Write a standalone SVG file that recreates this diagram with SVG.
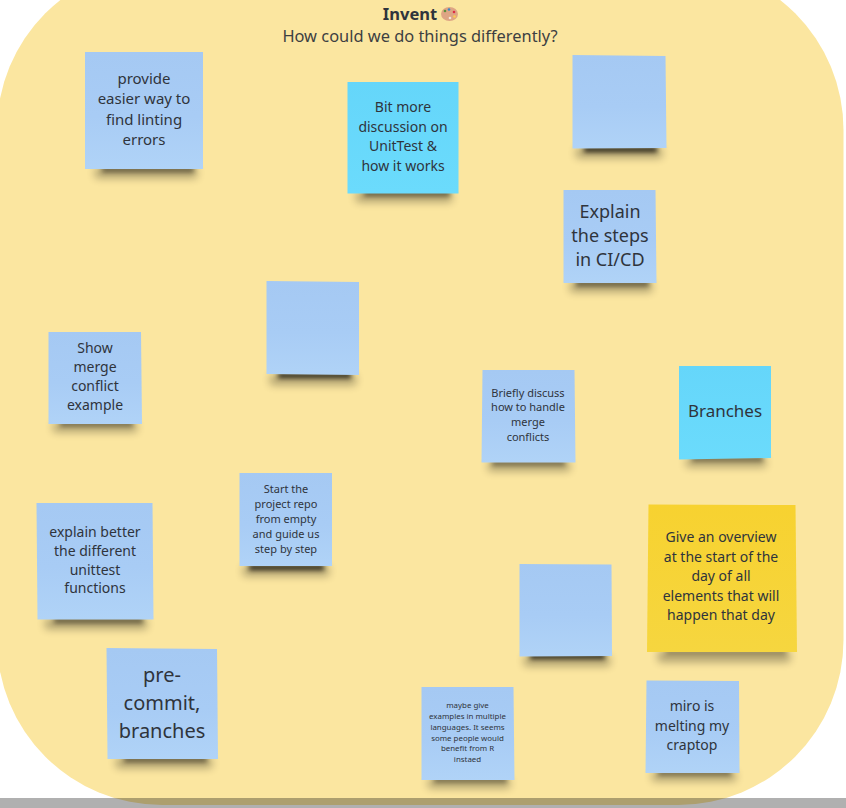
<svg xmlns="http://www.w3.org/2000/svg" width="846" height="808" viewBox="0 0 846 808">
<style>
text{font-family:"Noto Sans","Open Sans","Liberation Sans",sans-serif;fill:#2f343c;text-anchor:middle}
.blue{fill:url(#gb)}.cyan{fill:url(#gc)}.yellow{fill:url(#gy)}
.s1{fill:#000;opacity:.3;filter:url(#b3)}
.s2{fill:#000;opacity:.55;filter:url(#b2)}
.s3{fill:#000;opacity:.85;filter:url(#b2)}
</style>
<defs>
<linearGradient id="gb" x1="0" y1="0" x2="0" y2="1"><stop offset="0" stop-color="#a5c9f3"/><stop offset=".55" stop-color="#a8ccf5"/><stop offset="1" stop-color="#b0d3f7"/></linearGradient>
<linearGradient id="gc" x1="0" y1="0" x2="0" y2="1"><stop offset="0" stop-color="#65d6fa"/><stop offset="1" stop-color="#6bdbfc"/></linearGradient>
<linearGradient id="gy" x1="0" y1="0" x2="0" y2="1"><stop offset="0" stop-color="#f7d230"/><stop offset="1" stop-color="#f6d63f"/></linearGradient>
<filter id="b2" x="-20%" y="-200%" width="140%" height="500%"><feGaussianBlur stdDeviation="2.500"/></filter>
<filter id="b3" x="-20%" y="-200%" width="140%" height="500%"><feGaussianBlur stdDeviation="4.500"/></filter>
</defs>
<rect width="846" height="808" fill="#fff"/>
<rect id="frame" x="-3" y="-35" width="846.500" height="840" rx="165" ry="165" fill="#fbe6a0"/>
<g id="title">
<text x="410" y="20" font-size="16.500" font-weight="700">Invent</text>
<text x="420" y="42" font-size="16.400" style="fill:#3d3f42">How could we do things differently?</text>
</g>
<g id="palette">
<ellipse cx="449.500" cy="14" rx="8.500" ry="7" fill="#dea584"/>
<circle cx="445" cy="11" r="1.300" fill="#5c913b"/><circle cx="449" cy="9.500" r="1.300" fill="#3b88c3"/><circle cx="454" cy="12" r="1.300" fill="#dd2e44"/><circle cx="454.500" cy="16.500" r="1.300" fill="#ffcc4d"/><circle cx="450" cy="18" r="1.300" fill="#f4e8d8"/>
</g>
<g id="connectors"/>
<g id="n1"><rect class="s1" x="95" y="168" width="102" height="10"/><rect class="s2" x="102" y="167" width="92" height="5"/><rect class="blue" x="85" y="52" width="118" height="117"/>
<text font-size="15"><tspan x="144" y="84">provide</tspan><tspan x="144" y="104">easier way to</tspan><tspan x="144" y="125">find linting</tspan><tspan x="144" y="145">errors</tspan></text></g>
<g id="n2"><rect class="s1" x="356" y="192" width="96" height="10"/><rect class="s2" x="364" y="191" width="86" height="5"/><rect class="cyan" x="347.500" y="82" width="111" height="111.500"/>
<text font-size="14"><tspan x="403" y="112">Bit more</tspan><tspan x="403" y="132">discussion on</tspan><tspan x="403" y="151">UnitTest &amp;</tspan><tspan x="403" y="171">how it works</tspan></text></g>
<g id="n3"><rect class="s1" x="576" y="148" width="86" height="10"/><rect class="s3" x="584" y="147" width="73" height="5"/><polygon class="blue" points="572.500,55 665.500,56 666.500,148 572.500,148.500"/></g>
<g id="n4"><rect class="s1" x="570" y="282" width="82" height="10"/><rect class="s2" x="576" y="281" width="73" height="5"/><polygon class="blue" points="563.500,190 655.500,190 656.500,283 563.500,283"/>
<text font-size="18"><tspan x="610" y="218">Explain</tspan><tspan x="610" y="242">the steps</tspan><tspan x="610" y="266">in CI/CD</tspan></text></g>
<g id="n5"><rect class="s1" x="270" y="375" width="86" height="10"/><rect class="s3" x="278" y="373" width="73" height="5"/><polygon class="blue" points="266.500,281 359,282 359,375 266.500,374"/></g>
<g id="n6"><rect class="s1" x="53" y="423" width="84" height="9"/><rect class="s2" x="60" y="422" width="73" height="4"/><polygon class="blue" points="48.500,332 141,332 142,424 48.500,424"/>
<text font-size="14"><tspan x="95" y="353">Show</tspan><tspan x="95" y="372">merge</tspan><tspan x="95" y="391">conflict</tspan><tspan x="95" y="410">example</tspan></text></g>
<g id="n7"><rect class="s1" x="488" y="462" width="82" height="9"/><rect class="s2" x="492" y="461" width="73" height="4"/><polygon class="blue" points="482.500,370 574.500,370 575.500,462.500 481.500,462.500"/>
<text font-size="11"><tspan x="528" y="397">Briefly discuss</tspan><tspan x="528" y="411">how to handle</tspan><tspan x="528" y="426">merge</tspan><tspan x="528" y="441">conflicts</tspan></text></g>
<g id="n8"><rect class="s1" x="686" y="458" width="80" height="9"/><rect class="s2" x="692" y="457" width="71" height="4"/><polygon class="cyan" points="679,366 771,366 771,458 679,459.500"/>
<text font-size="17"><tspan x="725" y="417">Branches</tspan></text></g>
<g id="n9"><rect class="s1" x="243" y="566" width="86" height="10"/><rect class="s3" x="249" y="565" width="75" height="5"/><polygon class="blue" points="239.500,473 332,473 332,566 239.500,566"/>
<text font-size="11"><tspan x="286" y="493">Start the</tspan><tspan x="286" y="508">project repo</tspan><tspan x="286" y="523">from empty</tspan><tspan x="286" y="538">and guide us</tspan><tspan x="286" y="553">step by step</tspan></text></g>
<g id="n10"><rect class="s1" x="45" y="619" width="102" height="10"/><rect class="s2" x="54" y="618" width="89" height="5"/><polygon class="blue" points="36.500,503 152.500,503 153.500,619.500 37.500,619.500"/>
<text font-size="14"><tspan x="95" y="537">explain better</tspan><tspan x="95" y="556">the different</tspan><tspan x="95" y="575">unittest</tspan><tspan x="95" y="593">functions</tspan></text></g>
<g id="n11"><rect class="s1" x="658" y="651" width="132" height="11"/><rect class="s2" x="666" y="650" width="120" height="4" style="opacity:.35"/><polygon class="yellow" points="648.500,504.500 795.500,505 797,652 647,652"/>
<text font-size="14"><tspan x="721" y="542">Give an overview</tspan><tspan x="721" y="562">at the start of the</tspan><tspan x="721" y="581">day of all</tspan><tspan x="721" y="601">elements that will</tspan><tspan x="721" y="620">happen that day</tspan></text></g>
<g id="n12"><rect class="s1" x="524" y="656" width="86" height="10"/><rect class="s3" x="530" y="654" width="75" height="5"/><polygon class="blue" points="519.500,564 611.500,564.500 612,656 519.500,656.500"/></g>
<g id="n13"><rect class="s1" x="116" y="758" width="96" height="10"/><rect class="s2" x="124" y="757" width="83" height="5"/><polygon class="blue" points="106.500,648 217,649 218,759 107.500,759"/>
<text font-size="20"><tspan x="162" y="682">pre-</tspan><tspan x="162" y="710">commit,</tspan><tspan x="162" y="738">branches</tspan></text></g>
<g id="n14"><rect class="s1" x="428" y="779" width="82" height="9"/><rect class="s2" x="434" y="778" width="73" height="4"/><polygon class="blue" points="421.500,687 513.500,687 514.500,780 421.500,780"/>
<text font-size="7.900"><tspan x="467.500" y="708">maybe give</tspan><tspan x="467.500" y="719">examples in multiple</tspan><tspan x="467.500" y="730">languages. It seems</tspan><tspan x="467.500" y="741">some people would</tspan><tspan x="467.500" y="751">benefit from R</tspan><tspan x="467.500" y="762">instaed</tspan></text></g>
<g id="n15"><rect class="s1" x="652" y="772" width="84" height="9"/><rect class="s2" x="658" y="771" width="73" height="4"/><polygon class="blue" points="646.500,680.500 739,681 739.500,773 645.500,773"/>
<text font-size="14"><tspan x="692" y="711">miro is</tspan><tspan x="692" y="731">melting my</tspan><tspan x="692" y="750">craptop</tspan></text></g>
<rect id="strip" x="0" y="798" width="846" height="10" fill="#000" opacity=".31"/>
</svg>
